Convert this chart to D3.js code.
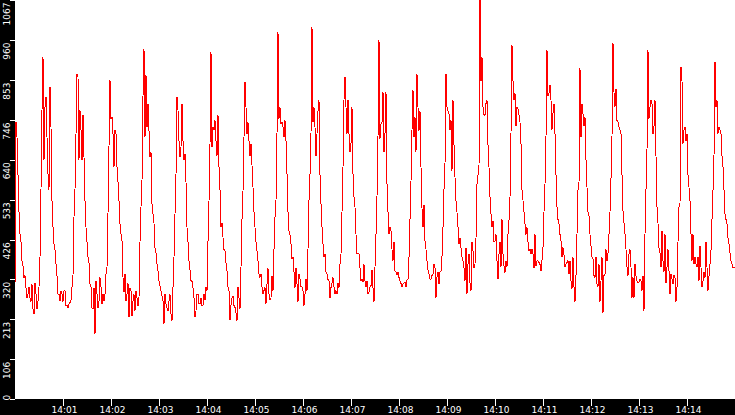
<!DOCTYPE html>
<html>
<head>
    <script src="https://d3js.org/d3.v7.min.js"></script>
    <style>
        body { margin: 0; background: #fff; }
    </style>
</head>
<body>
    <script>
        // readings every 1.25 s from 14:00:00 to 14:15:00
        const startTime = new Date(2000, 0, 1, 14, 0, 0);
        const stepSeconds = 1.25;

        const values00to03 = [
            300, 740, 700, 600, 500, 441, 420, 370, 355, 325, 330, 298, 270, 280, 300, 270, 260, 307, 240, 227,
            310, 280, 240, 262, 300, 379, 560, 772, 915, 638, 780, 808, 700, 602, 560, 835, 727, 530, 460, 414,
            400, 361, 330, 280, 280, 262, 290, 280, 260, 289, 290, 249, 250, 244, 255, 258, 265, 298, 330, 486,
            560, 709, 870, 861, 640, 772, 720, 638, 760, 647, 530, 459, 420, 379, 365, 307, 300, 244, 240, 298,
            175, 316, 280, 244, 260, 325, 300, 254, 280, 262, 280, 334, 352, 495, 674, 852, 750, 754, 709, 620,
            720, 709, 620, 580, 530, 468, 441, 423, 325, 285, 334, 262, 280, 310, 218, 298, 289, 222, 263, 280,
            236, 290, 271, 249, 271, 420, 513, 584, 808, 937, 700, 866, 727, 790, 718, 647, 660, 522, 495, 470,
            405, 390, 361, 343
        ];
        const values03to06 = [
            316, 303, 289, 276, 262, 200, 280, 255, 244, 236, 262, 280, 227, 210, 298, 380, 495, 600, 808, 772,
            691, 646, 674, 790, 691, 640, 656, 580, 459, 420, 370, 345, 316, 315, 298, 270, 220, 236, 280, 280,
            255, 255, 270, 250, 250, 280, 265, 300, 290, 420, 530, 680, 928, 673, 727, 720, 745, 690, 650, 760,
            620, 560, 459, 470, 432, 400, 396, 365, 343, 300, 289, 210, 250, 270, 275, 250, 245, 230, 209, 300,
            270, 240, 352, 480, 556, 700, 848, 780, 709, 740, 691, 650, 683, 625, 566, 500, 459, 420, 396, 370,
            334, 325, 334, 300, 280, 290, 298, 255, 307, 350, 280, 265, 271, 330, 289, 400, 486, 530, 709, 982,
            750, 780, 736, 740, 727, 700, 745, 690, 602, 500, 450, 440, 414, 375, 379, 340, 298, 350, 307, 260,
            334, 320, 300, 300
        ];
        const values06to09 = [
            289, 250, 280, 320, 289, 400, 531, 600, 709, 995, 740, 780, 727, 650, 709, 770, 799, 600, 522, 460,
            414, 380, 388, 340, 334, 320, 316, 270, 298, 310, 325, 300, 280, 290, 280, 310, 298, 360, 388, 500,
            620, 800, 861, 780, 709, 800, 709, 660, 683, 780, 602, 540, 513, 440, 388, 390, 388, 350, 316, 320,
            312, 360, 316, 300, 316, 280, 285, 300, 303, 345, 298, 260, 352, 440, 540, 700, 960, 696, 736, 740,
            820, 660, 709, 820, 575, 500, 441, 460, 450, 400, 370, 420, 343, 340, 332, 340, 325, 315, 309, 300,
            307, 310, 312, 300, 318, 320, 379, 480, 584, 720, 826, 700, 754, 660, 868, 780, 718, 770, 620, 510,
            459, 520, 423, 400, 370, 345, 334, 320, 320, 330, 334, 360, 352, 270, 325, 340, 307, 340, 343, 380,
            459, 560, 629, 870
        ];
        const values09to12 = [
            780, 770, 763, 720, 745, 610, 799, 680, 593, 530, 499, 460, 414, 430, 405, 380, 370, 350, 316, 405,
            280, 360, 388, 310, 289, 420, 397, 350, 361, 430, 575, 600, 620, 1067, 850, 915, 781, 760, 759, 790,
            799, 680, 620, 540, 495, 460, 477, 420, 423, 440, 370, 320, 388, 420, 352, 480, 388, 355, 338, 370,
            352, 440, 477, 540, 709, 946, 850, 800, 817, 730, 781, 775, 759, 740, 683, 560, 531, 500, 468, 440,
            459, 420, 397, 400, 388, 400, 388, 350, 441, 355, 370, 370, 365, 360, 343, 370, 405, 500, 575, 700,
            933, 810, 817, 840, 799, 720, 763, 790, 709, 600, 513, 480, 468, 440, 423, 380, 405, 385, 352, 360,
            365, 370, 334, 370, 316, 295, 379, 300, 260, 330, 441, 560, 575, 884, 700, 790, 763, 730, 754, 640,
            566, 500, 490, 440
        ];
        const values12to15 = [
            410, 380, 374, 330, 325, 380, 307, 300, 361, 260, 316, 380, 230, 330, 334, 400, 370, 390, 441, 500,
            589, 700, 951, 820, 781, 830, 745, 740, 727, 720, 709, 600, 504, 470, 441, 400, 352, 330, 388, 400,
            352, 270, 325, 270, 361, 330, 316, 310, 312, 320, 316, 290, 330, 236, 441, 560, 665, 933, 750, 780,
            799, 790, 709, 730, 799, 650, 513, 470, 405, 390, 352, 450, 370, 340, 441, 310, 352, 400, 343, 280,
            334, 320, 307, 330, 325, 260, 298, 420, 513, 520, 888, 850, 683, 720, 727, 690, 709, 600, 566, 530,
            441, 370, 441, 360, 379, 360, 352, 380, 316, 410, 352, 300, 316, 340, 325, 420, 352, 290, 329, 360,
            396, 480, 557, 650, 902, 780, 799, 710, 727, 720, 709, 650, 620, 560, 495, 480, 468, 430, 414, 390,
            370, 360, 352, 350, 352
        ];

        const yTicks = [0, 106, 213, 320, 426, 533, 640, 746, 853, 960, 1067];
        const xTickMinutes = [1, 2, 3, 4, 5, 6, 7, 8, 9, 10, 11, 12, 13, 14];

        const values = [].concat(values00to03, values03to06, values06to09, values09to12, values12to15);
        const data = values.map((v, i) => ({
            time: new Date(startTime.getTime() + i * stepSeconds * 1000),
            value: v
        }));

        const width = 735, height = 415;
        const left = 15, bottom = 399;

        const svg = d3.select('body')
            .append('svg')
            .attr('width', width)
            .attr('height', height);

        svg.append('rect')
            .attr('width', width)
            .attr('height', height)
            .attr('fill', '#fff');

        const xScale = d3.scaleTime()
            .domain([startTime, new Date(startTime.getTime() + 15 * 60000)])
            .range([left, width]);

        const yScale = d3.scaleLinear()
            .domain([0, 1067])
            .range([bottom, 0]);

        // the series
        const line = d3.line()
            .x(d => xScale(d.time))
            .y(d => yScale(d.value));

        svg.append('path')
            .datum(data)
            .attr('fill', 'none')
            .attr('stroke', '#ff0000')
            .attr('stroke-width', 1)
            .attr('shape-rendering', 'crispEdges')
            .attr('d', line);

        // black axis bands
        svg.append('rect')
            .attr('x', 0).attr('y', 0)
            .attr('width', left).attr('height', height)
            .attr('fill', '#000');
        svg.append('rect')
            .attr('x', 0).attr('y', bottom)
            .attr('width', width).attr('height', height - bottom)
            .attr('fill', '#000');

        // y axis, labels rotated
        const yAxis = svg.append('g')
            .attr('transform', `translate(${left},0)`)
            .call(d3.axisLeft(yScale)
                .tickValues(yTicks)
                .tickFormat(d3.format('d'))
                .tickSize(5)
                .tickSizeOuter(0));
        yAxis.select('.domain').remove();
        yAxis.selectAll('line').attr('stroke', '#fff').attr('shape-rendering', 'crispEdges');
        yAxis.selectAll('text')
            .attr('x', 0).attr('y', 0).attr('dy', null)
            .attr('fill', '#fff')
            .style('font-family', '"DejaVu Sans"')
            .style('font-size', '9px')
            .attr('text-anchor', d => d === 0 ? 'start' : 'end')
            .attr('transform', d => d === 0 ? 'translate(-5.5,1) rotate(-90)' : 'translate(-5.5,2) rotate(-90)');

        // x axis
        const xAxis = svg.append('g')
            .attr('transform', `translate(0,${bottom})`)
            .call(d3.axisBottom(xScale)
                .tickValues(xTickMinutes.map(m => new Date(startTime.getTime() + m * 60000)))
                .tickFormat(d3.timeFormat('%H:%M'))
                .tickSize(7)
                .tickSizeOuter(0));
        xAxis.select('.domain').remove();
        xAxis.selectAll('line').attr('stroke', '#fff').attr('shape-rendering', 'crispEdges');
        xAxis.selectAll('text')
            .attr('y', 14).attr('dy', null)
            .attr('dx', 1)
            .attr('fill', '#fff')
            .style('font-family', '"DejaVu Sans"')
            .style('font-size', '9px');
    </script>
</body>
</html>
